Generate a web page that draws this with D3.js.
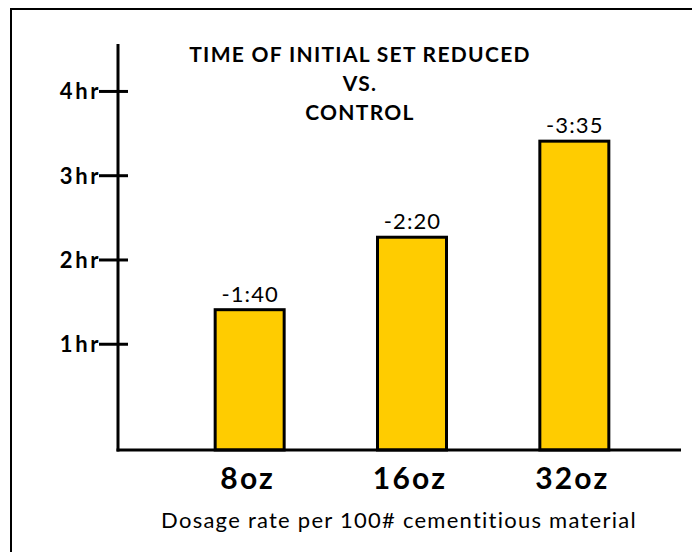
<!DOCTYPE html>
<html>
<head>
<meta charset="utf-8">
<script src="https://cdn.jsdelivr.net/npm/d3@7"></script>
<style>
  body { margin: 0; background: #fff; }
  text { font-family: Lato, "Noto Sans", sans-serif; fill: #000; }
</style>
</head>
<body>
<svg width="692" height="552"></svg>
<script>
// chart data
const categories = ['8oz', '16oz', '32oz'];
const hours = [1.41, 2.27, 3.41];          // bar heights on the hr axis
const valueLabels = ['-1:40', '-2:20', '-3:35'];
const tickValues = [1, 2, 3, 4];
const tickLabels = ['1hr', '2hr', '3hr', '4hr'];
const titleLines = ['TIME OF INITIAL SET REDUCED', 'VS.', 'CONTROL'];
const xTitle = 'Dosage rate per 100# cementitious material';

const svg = d3.select('svg');

// outer frame (runs off the right and bottom edge)
svg.append('rect')
    .attr('x', 11)
    .attr('y', 9)
    .attr('width', 700)
    .attr('height', 600)
    .attr('fill', 'none')
    .attr('stroke', '#000')
    .attr('stroke-width', 2);

// scales
const xScale = d3.scaleBand()
    .domain(categories)
    .range([134, 690])
    .paddingInner(0.575)
    .paddingOuter(0.5);

const yScale = d3.scaleLinear()
    .domain([-0.255, 4.563])
    .range([450, 44]);

const axisX = 118;
const baseY = yScale(-0.255);

// bars
const bars = svg.selectAll('.bar')
    .data(hours)
    .enter()
    .append('g')
    .attr('class', 'bar');

bars.append('rect')
    .attr('x', (d, i) => xScale(categories[i]))
    .attr('y', d => yScale(d))
    .attr('width', xScale.bandwidth())
    .attr('height', d => baseY - yScale(d))
    .attr('fill', '#FFCC00')
    .attr('stroke', '#000')
    .attr('stroke-width', 3);

// value labels above bars
bars.append('text')
    .attr('x', (d, i) => xScale(categories[i]) + xScale.bandwidth() / 2 + 0.5)
    .attr('y', d => yScale(d) - 8)
    .attr('text-anchor', 'middle')
    .style('font-size', '22px')
    .style('letter-spacing', '1.1px')
    .text((d, i) => valueLabels[i]);

// y axis line
svg.append('line')
    .attr('x1', axisX).attr('x2', axisX)
    .attr('y1', yScale(4.563)).attr('y2', baseY + 1.5)
    .attr('stroke', '#000')
    .attr('stroke-width', 3);

// x axis line
svg.append('line')
    .attr('x1', axisX - 1.5).attr('x2', 681)
    .attr('y1', baseY).attr('y2', baseY)
    .attr('stroke', '#000')
    .attr('stroke-width', 3);

// y ticks + labels
const ticks = svg.selectAll('.tick')
    .data(tickValues)
    .enter()
    .append('g')
    .attr('class', 'tick')
    .attr('transform', d => 'translate(0,' + yScale(d) + ')');

ticks.append('line')
    .attr('x1', 99).attr('x2', 128)
    .attr('stroke', '#000')
    .attr('stroke-width', 3);

ticks.append('text')
    .attr('x', 101)
    .attr('dy', '0.36em')
    .attr('text-anchor', 'end')
    .style('font-size', '22px')
    .style('font-weight', 'bold')
    .style('letter-spacing', '2.6px')
    .text((d, i) => tickLabels[i]);

// category labels
svg.selectAll('.cat')
    .data(categories)
    .enter()
    .append('text')
    .attr('class', 'cat')
    .attr('x', d => xScale(d) + xScale.bandwidth() / 2 - 2)
    .attr('y', 489)
    .attr('text-anchor', 'middle')
    .style('font-size', '30px')
    .style('font-weight', 'bold')
    .style('letter-spacing', '2.2px')
    .text(d => d);

// x axis title
svg.append('text')
    .attr('x', 399)
    .attr('y', 528)
    .attr('text-anchor', 'middle')
    .style('font-size', '22px')
    .style('letter-spacing', '1.25px')
    .text(xTitle);

// chart title
svg.selectAll('.title')
    .data(titleLines)
    .enter()
    .append('text')
    .attr('class', 'title')
    .attr('x', 360)
    .attr('y', (d, i) => 62 + i * 29)
    .attr('text-anchor', 'middle')
    .style('font-size', '21px')
    .style('font-weight', 'bold')
    .style('letter-spacing', '1.3px')
    .text(d => d);
</script>
</body>
</html>
